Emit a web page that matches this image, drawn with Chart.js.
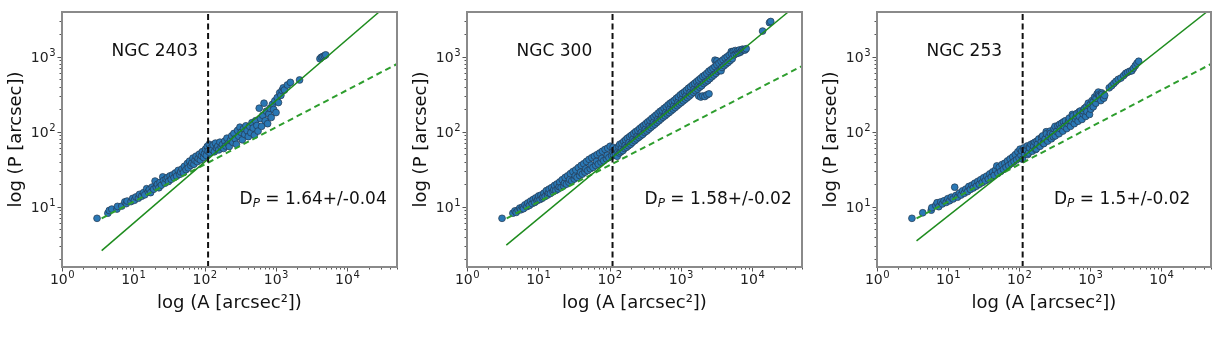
<!DOCTYPE html>
<html>
<head>
<meta charset="utf-8">
<script src="https://cdn.jsdelivr.net/npm/chart.js@4.4.0/dist/chart.umd.min.js"></script>
<style>
  html, body { margin: 0; padding: 0; background: #fff; width: 1221px; height: 355px; overflow: hidden; }
  .panel { position: absolute; top: 0; }
</style>
</head>
<body>
<div class="panel" style="left:0px"><canvas id="c0" width="407" height="355"></canvas></div>
<div class="panel" style="left:405px"><canvas id="c1" width="407" height="355"></canvas></div>
<div class="panel" style="left:815px"><canvas id="c2" width="406" height="355"></canvas></div>
<script>
// axes
const xMajor = [1, 10, 100, 1000, 10000];
const yMajor = [10, 100, 1000];
const minorMantissa = [2, 3, 4, 5, 6, 7, 8, 9];
const xRange = [1, 50000];
const yRange = [1.57, 3950];

// panels
const galaxyNames = ['NGC 2403', 'NGC 300', 'NGC 253'];
const dpValues = ['1.64+/-0.04', '1.58+/-0.02', '1.5+/-0.02'];
const breakArea = [112, 110, 112];
const solidFit = [
  [[3.6, 2.6], [28000, 3950]],
  [[3.56, 3.08], [32000, 3950]],
  [[3.6, 3.5], [43500, 3950]]
];
const dashedFit = [
  [[3.6, 7.0], [50000, 800]],
  [[3.6, 7.0], [50000, 750]],
  [[3.6, 7.0], [50000, 800]]
];

// scatter points [A, P]
const ngc2403 = [
  [3.1,7.0],[4.4,8.2],[4.6,8.9],[5.0,9.3],[5.9,9.3],[6.0,10.1],[6.9,10.2],[7.6,11.6],[8.0,11.0],[8.2,11.9],
  [9.3,11.7],[9.8,12.9],[10.4,12.2],[10.9,13.5],[11.8,13.0],[12.2,14.6],[13.1,13.8],[13.9,15.4],[14.5,14.4],[15.4,17.4],
  [16.2,15.8],[16.8,16.9],[17.5,15.4],[18.4,18.3],[19.3,17.1],[20.2,22.0],[21.0,18.2],[21.8,19.9],[22.9,17.9],[23.7,21.1],
  [24.8,19.4],[25.9,25.0],[26.5,22.3],[27.8,20.6],[28.9,23.5],[30.4,24.6],[31.2,21.7],[32.8,25.8],[34.0,23.2],[35.6,26.6],
  [37.3,24.4],[38.9,28.2],[40.5,25.6],[42.7,30.5],[44.8,27.0],[46.2,29.1],[48.3,31.9],[50.6,28.5],[52.1,34.6],[54.9,31.2],
  [57.4,37.8],[59.0,33.0],[61.5,40.5],[63.8,35.5],[66.2,38.2],[68.7,44.5],[70.9,36.8],[73.4,41.6],[76.1,47.2],[78.8,39.8],
  [81.3,44.0],[84.5,50.3],[87.2,42.1],[90.4,47.6],[93.1,54.2],[96.6,45.3],[99.8,51.0],[103,58.5],[106,48.2],[109,63.5],
  [112,55.0],[116,68.0],[119,52.5],[123,61.0],[128,57.5],[132,66.5],[137,54.0],[142,70.5],[147,60.5],[153,64.0],
  [158,57.2],[164,72.5],[171,62.5],[178,67.5],[185,59.8],[192,75.0],[198,64.5],[206,82.0],[214,69.0],[222,63.5],
  [231,77.0],[240,88.0],[249,72.0],[258,95.0],[268,80.5],[279,68.0],[290,104.0],[301,87.0],[313,115.0],[325,98.0],
  [338,78.0],[352,110.0],[366,92.0],[380,120.0],[395,103.0],[411,86.0],[428,118.0],[445,97.0],[462,132.0],[480,112.0],
  [500,90.0],[520,140.0],[541,121.0],[562,102.0],[584,206.0],[607,150.0],[631,118.0],[656,165.0],[682,240.0],[709,140.0],
  [737,188.0],[766,128.0],[796,172.0],[828,205.0],[861,155.0],[895,232.0],[930,198.0],[967,258.0],[1005,180.0],[1045,285.0],
  [1087,245.0],[1130,330.0],[1175,305.0],[1222,355.0],[1270,385.0],[1320,360.0],[1450,420.0],[1600,455.0],[2150,490.0],
  [4150,940.0],[4350,985.0],[4550,1005.0],[4800,1030.0],[5000,1060.0]
];
const ngc300 = [
  [3.1,7.0],[4.4,8.2],[4.7,8.8],[4.9,8.4],[5.2,9.0],[5.5,9.6],[5.7,9.1],[6.0,9.9],[6.2,9.4],[6.5,10.6],
  [6.9,10.0],[7.1,11.2],[7.5,10.4],[7.8,11.9],[8.2,11.0],[8.5,12.5],[8.9,11.4],[9.2,13.1],[9.6,12.0],[9.9,12.6],
  [10.1,13.9],[10.6,12.5],[10.9,14.3],[11.4,13.0],[11.7,13.6],[12.0,15.2],[12.5,13.7],[13.0,16.4],[13.5,14.3],[13.9,15.3],
  [14.2,17.2],[14.8,15.0],[15.4,18.0],[16.1,15.8],[16.5,16.8],[16.9,19.2],[17.6,16.5],[18.3,20.1],[19.0,17.2],[19.6,18.5],
  [20.0,21.4],[20.9,18.1],[21.7,22.9],[22.6,19.0],[23.3,20.6],[23.8,24.5],[24.8,20.0],[25.8,25.8],[26.9,21.2],[27.6,23.0],
  [28.2,27.6],[29.5,22.1],[30.6,29.4],[32.0,23.4],[33.0,25.8],[33.6,31.0],[35.0,24.6],[36.5,33.2],[38.0,26.1],[39.2,28.8],
  [40.0,35.6],[41.5,27.2],[43.4,37.4],[45.1,28.9],[46.5,32.0],[47.4,40.1],[49.3,30.3],[51.5,42.8],[53.6,32.1],[55.2,35.9],
  [56.3,45.0],[58.6,33.4],[61.3,47.2],[63.8,35.5],[65.6,40.2],[66.8,49.5],[69.5,37.0],[72.8,52.0],[75.8,39.4],[78.0,44.1],
  [79.4,55.0],[82.6,41.0],[86.5,58.1],[90.1,43.5],[92.7,48.5],[94.3,60.5],[98.1,45.2],[102,64.0],[107,48.0],[110,54.0],
  [112,62.0],[114,48.0],[116,55.0],[120,58.0],[122,50.0],[124,60.0],[128,47.0],[131,54.0],[134,64.0],[137,52.0],
  [139,68.0],[144,54.0],[147,60.0],[149,70.0],[154,56.0],[158,74.0],[162,60.0],[166,66.0],[168,78.0],[173,62.0],
  [178,82.0],[184,65.0],[188,72.0],[191,86.0],[197,68.0],[203,90.0],[209,72.0],[214,80.0],[218,95.0],[225,76.0],
  [232,100.0],[239,80.0],[245,88.0],[249,104.0],[256,84.0],[264,110.0],[272,88.0],[279,98.0],[283,116.0],[291,92.0],
  [301,121.0],[310,98.0],[318,108.0],[322,128.0],[332,102.0],[343,135.0],[354,108.0],[362,120.0],[368,142.0],[379,114.0],
  [392,150.0],[404,120.0],[413,133.0],[419,158.0],[432,126.0],[447,166.0],[461,133.0],[472,146.0],[478,176.0],[493,140.0],
  [510,186.0],[526,148.0],[539,163.0],[545,194.0],[562,156.0],[581,205.0],[600,163.0],[614,181.0],[621,215.0],[641,172.0],
  [663,228.0],[684,180.0],[701,201.0],[709,240.0],[731,190.0],[756,250.0],[780,200.0],[799,222.0],[808,262.0],[833,210.0],
  [862,278.0],[890,222.0],[912,248.0],[921,292.0],[950,234.0],[983,310.0],[1014,245.0],[1038,272.0],[1050,325.0],[1083,258.0],
  [1121,340.0],[1157,272.0],[1184,302.0],[1197,358.0],[1235,285.0],[1278,380.0],[1319,300.0],[1350,335.0],[1365,398.0],[1408,318.0],
  [1458,420.0],[1504,335.0],[1540,372.0],[1557,442.0],[1606,352.0],[1662,465.0],[1715,370.0],[1756,410.0],[1780,300.0],[1776,490.0],
  [1833,392.0],[1905,290.0],[1895,515.0],[1956,410.0],[2030,300.0],[2023,545.0],[2088,440.0],[2170,295.0],[2161,570.0],[2231,460.0],
  [2320,310.0],[2309,600.0],[2383,480.0],[2480,320.0],[2467,640.0],[2547,510.0],[2635,670.0],[2720,540.0],[2813,700.0],[2903,570.0],
  [3010,900.0],[3000,740.0],[3107,600.0],[3210,880.0],[3207,780.0],[3310,640.0],[3425,820.0],[3535,660.0],[3660,650.0],[3662,870.0],
  [3780,720.0],[3908,910.0],[4034,760.0],[4175,960.0],[4309,800.0],[4461,1000.0],[4604,840.0],[4767,1050.0],[4920,890.0],[5093,1170.0],
  [5125,1100.0],[5256,940.0],[5438,1180.0],[5613,1060.0],[5803,1210.0],[5990,1100.0],[6198,1190.0],[6397,1120.0],[6622,1230.0],[6835,1150.0],
  [7076,1200.0],[7304,1260.0],[7650,1240.0],[7950,1230.0],[8250,1280.0],[14000,2200.0],[17500,2850.0],[18200,2950.0]
];
const ngc253 = [
  [3.1,7.0],[4.4,8.3],[5.8,9.0],[5.9,9.7],[6.7,10.4],[7.0,11.3],[7.4,10.0],[7.9,11.6],[8.3,10.9],[8.8,12.0],
  [9.4,11.4],[9.9,12.8],[10.5,12.0],[11.1,13.4],[11.8,12.7],[12.4,18.2],[12.9,14.1],[13.6,13.4],[14.4,15.2],[15.2,14.3],
  [16.0,16.3],[16.9,15.1],[17.8,17.2],[18.8,15.9],[19.6,18.6],[20.6,17.0],[21.7,19.4],[22.7,17.8],[23.8,20.6],[25.0,18.8],
  [26.3,21.8],[27.5,19.9],[28.9,23.0],[30.3,21.0],[31.8,24.4],[33.4,22.2],[35.0,25.6],[36.8,23.4],[38.6,27.4],[40.5,24.8],
  [42.4,29.2],[44.5,26.2],[46.6,31.0],[48.5,35.0],[50.2,27.8],[52.5,33.5],[55.0,29.5],[57.3,36.5],[60.1,31.4],[62.8,38.0],
  [65.4,33.6],[68.5,40.8],[71.2,35.4],[74.6,43.4],[77.9,37.6],[81.3,46.0],[84.7,40.0],[88.4,49.5],[92.0,42.2],[95.8,54.0],
  [99.6,45.0],[103,58.5],[106,48.5],[109,55.5],[112,43.0],[116,61.0],[118,56.0],[120,50.5],[125,57.5],[130,64.5],
  [132,49.5],[135,52.0],[138,62.0],[141,60.5],[147,68.0],[153,55.0],[158,70.0],[160,64.0],[167,72.5],[171,58.0],
  [174,59.0],[178,75.0],[181,68.0],[189,80.0],[197,64.0],[205,74.0],[208,85.0],[214,88.0],[220,70.0],[223,69.5],
  [232,80.0],[240,100.0],[242,94.0],[252,75.0],[262,86.0],[273,102.0],[276,95.0],[285,80.5],[297,93.0],[302,86.0],
  [309,110.0],[320,118.0],[322,88.0],[336,101.0],[350,120.0],[364,94.0],[370,125.0],[380,110.0],[396,130.0],[412,102.0],
  [420,135.0],[430,118.0],[448,140.0],[467,110.0],[486,128.0],[500,140.0],[507,152.0],[528,118.0],[550,138.0],[560,170.0],
  [573,162.0],[597,128.0],[622,148.0],[640,160.0],[648,175.0],[675,138.0],[700,185.0],[703,160.0],[733,190.0],[764,146.0],
  [796,172.0],[800,190.0],[829,205.0],[864,160.0],[880,215.0],[900,185.0],[938,240.0],[977,170.0],[1000,230.0],[1018,200.0],
  [1060,260.0],[1100,250.0],[1105,215.0],[1151,290.0],[1200,240.0],[1210,280.0],[1250,320.0],[1302,338.0],[1310,310.0],[1356,300.0],
  [1413,260.0],[1450,330.0],[1472,315.0],[1534,285.0],[1550,280.0],[1598,305.0],[1850,385.0],[2000,410.0],[2150,440.0],[2300,470.0],
  [2480,500.0],[2700,520.0],[2950,560.0],[3150,600.0],[3350,620.0],[3600,640.0],[3850,650.0],[4050,700.0],[4300,760.0],[4550,820.0],
  [4800,870.0]
];
const galaxyPoints = [ngc2403, ngc300, ngc253];

const FONT = 'DejaVu Sans';

// "10" with a raised exponent, like matplotlib's mathtext tick labels
function drawPower(ctx, value, x, baseline, align) {
  const exp = String(Math.round(Math.log10(value)));
  ctx.font = '14px "' + FONT + '"';
  const wBase = ctx.measureText('10').width;
  ctx.font = '10px "' + FONT + '"';
  const wExp = ctx.measureText(exp).width;
  const left = align === 'center' ? x - (wBase + wExp) / 2 : x - (wBase + wExp);
  ctx.textAlign = 'left';
  ctx.textBaseline = 'alphabetic';
  ctx.font = '14px "' + FONT + '"';
  ctx.fillText('10', left, baseline);
  ctx.font = '10px "' + FONT + '"';
  ctx.fillText(exp, left + wBase + 0.5, baseline - 6);
}

// frame, tick marks, tick labels and the two text labels
const decorPlugin = {
  id: 'decor',
  afterDraw(chart, args, opts) {
    const { ctx, chartArea: a, scales: { x, y } } = chart;
    ctx.save();
    ctx.strokeStyle = '#555';
    ctx.lineWidth = 1;
    ctx.beginPath();
    xMajor.forEach(d => {
      const px = Math.round(x.getPixelForValue(d)) + 0.5;
      ctx.moveTo(px, a.bottom); ctx.lineTo(px, a.bottom + 4.5);
      minorMantissa.forEach(m => {
        const v = d * m;
        if (v > x.max) return;
        const mx = Math.round(x.getPixelForValue(v)) + 0.5;
        ctx.moveTo(mx, a.bottom); ctx.lineTo(mx, a.bottom + 2.5);
      });
    });
    [1].concat(yMajor).forEach(d => {
      if (d >= y.min) {
        const py = Math.round(y.getPixelForValue(d)) + 0.5;
        ctx.moveTo(a.left, py); ctx.lineTo(a.left - 4.5, py);
      }
      minorMantissa.forEach(m => {
        const v = d * m;
        if (v > y.max || v < y.min) return;
        const my = Math.round(y.getPixelForValue(v)) + 0.5;
        ctx.moveTo(a.left, my); ctx.lineTo(a.left - 2.5, my);
      });
    });
    ctx.stroke();

    ctx.strokeStyle = '#8a8a8a';
    ctx.lineWidth = 2;
    ctx.strokeRect(a.left, a.top, a.right - a.left, a.bottom - a.top);

    ctx.fillStyle = '#222';
    xMajor.forEach(d => drawPower(ctx, d, x.getPixelForValue(d), a.bottom + 16.5, 'center'));
    yMajor.forEach(d => drawPower(ctx, d, a.left - 7, y.getPixelForValue(d) + 5.5, 'right'));

    const w = a.right - a.left, h = a.bottom - a.top;
    ctx.fillStyle = '#111';
    ctx.textBaseline = 'middle';
    ctx.textAlign = 'left';
    ctx.font = '17px "' + FONT + '"';
    ctx.fillText(opts.name, a.left + 0.148 * w, a.top + 0.157 * h);

    let tx = a.left + 0.53 * w;
    const ty = a.top + 0.737 * h;
    ctx.fillText('D', tx, ty);
    tx += ctx.measureText('D').width;
    ctx.font = 'italic 12px "' + FONT + '"';
    ctx.fillText('P', tx, ty + 4);
    tx += ctx.measureText('P').width;
    ctx.font = '17px "' + FONT + '"';
    ctx.fillText(' = ' + opts.dp, tx, ty);
    ctx.restore();
  }
};

function makeChart(i) {
  const canvas = document.getElementById('c' + i);
  const pts = galaxyPoints[i];
  return new Chart(canvas, {
    type: 'scatter',
    data: {
      datasets: [
        {
          data: [{ x: breakArea[i], y: yRange[0] }, { x: breakArea[i], y: yRange[1] }],
          showLine: true, borderColor: '#111', borderWidth: 2, borderDash: [6, 3.5],
          pointRadius: 0, order: 0
        },
        {
          data: solidFit[i].map(p => ({ x: p[0], y: p[1] })),
          showLine: true, borderColor: '#1e8c1e', borderWidth: 1.5,
          pointRadius: 0, order: 0
        },
        {
          data: dashedFit[i].map(p => ({ x: p[0], y: p[1] })),
          showLine: true, borderColor: '#2e9e2e', borderWidth: 2, borderDash: [6, 4],
          pointRadius: 0, order: 0
        },
        {
          data: pts.map(p => ({ x: p[0], y: p[1] })),
          backgroundColor: '#2a78b5', borderColor: '#24384f', borderWidth: 0.7,
          pointRadius: 3.4, order: 1
        }
      ]
    },
    options: {
      responsive: false,
      animation: false,
      devicePixelRatio: 1,
      layout: { padding: { left: 0, right: 10, top: 12, bottom: 0 } },
      plugins: {
        legend: { display: false },
        tooltip: { enabled: false },
        decor: { name: galaxyNames[i], dp: dpValues[i] }
      },
      scales: {
        x: {
          type: 'logarithmic', min: xRange[0], max: xRange[1],
          afterBuildTicks: s => { s.ticks = xMajor.map(v => ({ value: v })); },
          afterFit: s => { s.height = 88; },
          grid: { display: false, drawTicks: false },
          border: { display: false },
          ticks: { display: false },
          title: {
            display: true, text: 'log (A [arcsec²])', color: '#111',
            font: { family: FONT, size: 18 }, padding: { top: 0, bottom: 41 }
          }
        },
        y: {
          type: 'logarithmic', min: yRange[0], max: yRange[1],
          afterBuildTicks: s => { s.ticks = yMajor.map(v => ({ value: v })); },
          afterFit: s => { s.width = 62; },
          grid: { display: false, drawTicks: false },
          border: { display: false },
          ticks: { display: false },
          title: {
            display: true, text: 'log (P [arcsec])', color: '#111',
            font: { family: FONT, size: 18 }, padding: { top: 6, bottom: 0 }
          }
        }
      }
    },
    plugins: [decorPlugin]
  });
}

[0, 1, 2].forEach(makeChart);
</script>
</body>
</html>
